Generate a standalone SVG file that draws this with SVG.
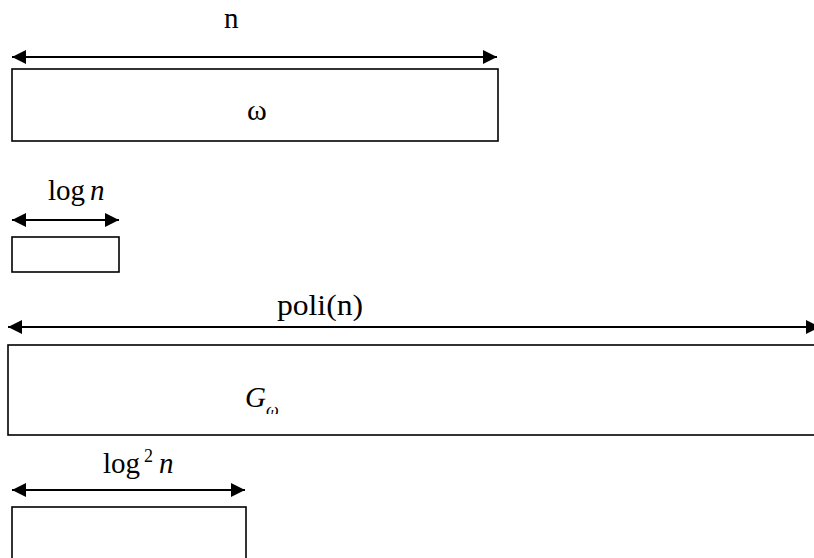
<svg xmlns="http://www.w3.org/2000/svg" width="814" height="558" viewBox="0 0 814 558">
<style>
.box{fill:none;stroke:#000;stroke-width:1.6}
.arr{stroke:#000;stroke-width:2;fill:none;marker-start:url(#ah);marker-end:url(#ah)}
text{font-family:"Liberation Serif","Times New Roman",serif;fill:#000}
.lbl{font-size:29px}
.it{font-style:italic}
</style>
<defs>
<marker id="ah" viewBox="0 0 10 10" refX="10" refY="5" markerWidth="8.5" markerHeight="7" markerUnits="strokeWidth" orient="auto-start-reverse">
<path d="M0,0 L10,5 L0,10 Z" fill="#000"/>
</marker>
<clipPath id="gclip"><rect x="0" y="0" width="814" height="414"/></clipPath>
</defs>
<rect width="814" height="558" fill="#fff"/>
<g id="connectors">
<line class="arr" x1="12" y1="57" x2="497" y2="57"/>
<line class="arr" x1="12" y1="220" x2="119" y2="220"/>
<line class="arr" x1="8" y1="327" x2="820" y2="327"/>
<line class="arr" x1="12" y1="490" x2="245" y2="490"/>
</g>
<g id="node-omega">
<text class="lbl" x="224" y="28">n</text>
<rect class="box" x="12" y="69" width="486" height="72"/>
<text x="247" y="120" font-size="30">ω</text>
</g>
<g id="node-logn">
<text class="lbl" x="48" y="200">log<tspan class="it" dx="5">n</tspan></text>
<rect class="box" x="12" y="237" width="107" height="35"/>
</g>
<g id="node-G">
<text class="lbl" x="277" y="315" textLength="86" lengthAdjust="spacingAndGlyphs">poli(n)</text>
<rect class="box" x="8" y="345" width="820" height="90"/>
<text class="lbl it" x="245" y="407" clip-path="url(#gclip)">G<tspan font-size="18" dy="9">ω</tspan></text>
</g>
<g id="node-log2n">
<text class="lbl" x="103" y="473">log<tspan font-size="18" dx="4" dy="-11">2</tspan><tspan class="it" dx="6" dy="11">n</tspan></text>
<rect class="box" x="12" y="507" width="234" height="60"/>
</g>
</svg>
